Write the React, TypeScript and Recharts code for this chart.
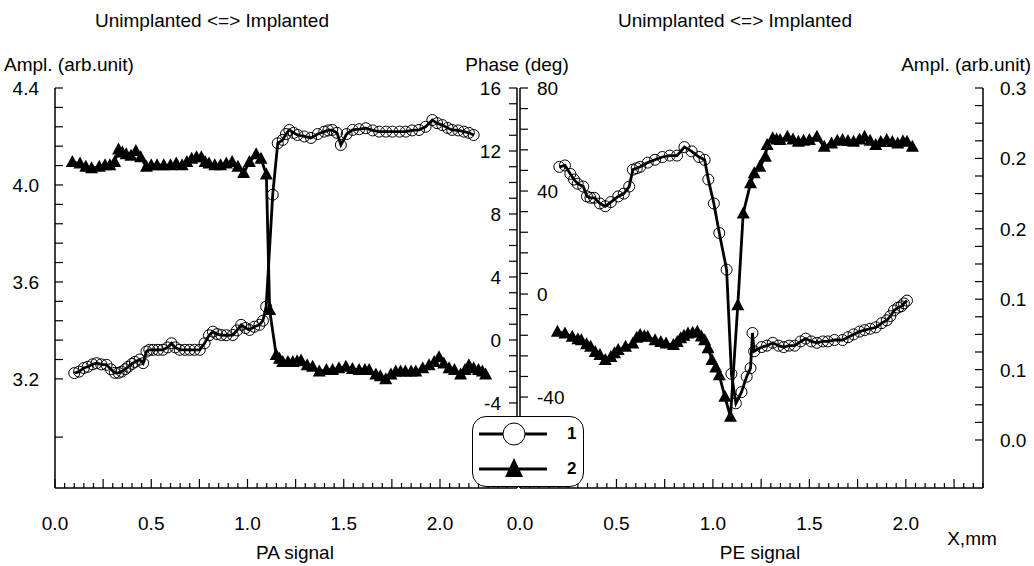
import React from "react";
import { LineChart, Line, XAxis, YAxis } from "recharts";

// PA signal: curve 1 = amplitude (left axis), curve 2 = phase (right axis)
const paAmpX = [0.1, 0.125, 0.15, 0.17, 0.195, 0.216, 0.24, 0.268, 0.29, 0.311, 0.33, 0.346, 0.365, 0.38, 0.4, 0.415, 0.44, 0.458, 0.475, 0.49, 0.51, 0.535, 0.56, 0.585, 0.605, 0.625, 0.648, 0.675, 0.7, 0.725, 0.752, 0.777, 0.8, 0.82, 0.842, 0.864, 0.89, 0.924, 0.945, 0.967, 0.99, 1.01, 1.035, 1.062, 1.08, 1.097, 1.131, 1.157, 1.183, 1.2, 1.217, 1.24, 1.26, 1.295, 1.33, 1.365, 1.399, 1.42, 1.44, 1.465, 1.485, 1.515, 1.546, 1.58, 1.615, 1.65, 1.684, 1.72, 1.753, 1.79, 1.822, 1.855, 1.891, 1.925, 1.96, 1.985, 2.012, 2.04, 2.063, 2.095, 2.124, 2.15, 2.175];
const paAmpY = [3.224, 3.23, 3.245, 3.25, 3.26, 3.265, 3.26, 3.258, 3.24, 3.225, 3.225, 3.23, 3.24, 3.25, 3.262, 3.27, 3.28, 3.265, 3.313, 3.32, 3.32, 3.32, 3.32, 3.33, 3.347, 3.33, 3.32, 3.32, 3.32, 3.32, 3.32, 3.347, 3.38, 3.395, 3.385, 3.381, 3.38, 3.381, 3.4, 3.423, 3.41, 3.402, 3.415, 3.423, 3.44, 3.498, 3.96, 4.172, 4.186, 4.21, 4.227, 4.215, 4.206, 4.2, 4.194, 4.21, 4.22, 4.225, 4.227, 4.215, 4.165, 4.21, 4.227, 4.23, 4.234, 4.225, 4.22, 4.22, 4.22, 4.22, 4.22, 4.225, 4.227, 4.24, 4.268, 4.255, 4.247, 4.235, 4.227, 4.225, 4.22, 4.215, 4.206];
const paPhaseX = [0.09, 0.13, 0.16, 0.19, 0.23, 0.26, 0.285, 0.31, 0.33, 0.35, 0.37, 0.395, 0.42, 0.445, 0.475, 0.5, 0.53, 0.565, 0.6, 0.63, 0.66, 0.685, 0.71, 0.735, 0.76, 0.78, 0.8, 0.83, 0.86, 0.89, 0.92, 0.95, 0.98, 1.01, 1.045, 1.07, 1.098, 1.115, 1.149, 1.166, 1.183, 1.21, 1.235, 1.258, 1.278, 1.31, 1.338, 1.373, 1.41, 1.442, 1.475, 1.511, 1.545, 1.58, 1.61, 1.632, 1.667, 1.69, 1.718, 1.745, 1.77, 1.795, 1.82, 1.85, 1.874, 1.91, 1.943, 1.97, 1.995, 2.02, 2.047, 2.075, 2.107, 2.13, 2.15, 2.175, 2.2, 2.22, 2.237];
const paPhaseY = [11.3, 11.2, 11.0, 10.9, 11.0, 11.1, 11.1, 11.3, 12.1, 11.9, 11.8, 11.7, 12.0, 11.6, 11.0, 11.1, 11.1, 11.1, 11.1, 11.2, 11.1, 11.3, 11.5, 11.6, 11.6, 11.3, 11.2, 11.1, 11.1, 11.2, 11.3, 11.0, 10.6, 11.3, 11.8, 11.5, 10.5, 1.9, -0.95, -1.2, -1.4, -1.4, -1.4, -1.35, -1.3, -1.6, -1.7, -2.0, -1.9, -1.9, -1.8, -1.7, -1.85, -1.9, -1.9, -1.9, -2.2, -2.3, -2.5, -2.2, -2.0, -2.0, -2.0, -2.0, -2.0, -1.8, -1.6, -1.4, -1.1, -1.5, -1.8, -1.9, -2.2, -1.9, -1.6, -1.8, -1.9, -2.0, -2.2];

// PE signal: curve 1 = amplitude (right axis), curve 2 = phase (left axis)
const peAmpX = [0.204, 0.233, 0.261, 0.28, 0.299, 0.328, 0.347, 0.365, 0.385, 0.414, 0.442, 0.471, 0.509, 0.538, 0.566, 0.585, 0.605, 0.623, 0.662, 0.7, 0.738, 0.776, 0.814, 0.852, 0.89, 0.928, 0.957, 0.976, 1.005, 1.033, 1.071, 1.096, 1.119, 1.148, 1.175, 1.195, 1.205, 1.214, 1.253, 1.28, 1.31, 1.34, 1.367, 1.395, 1.424, 1.455, 1.481, 1.51, 1.539, 1.57, 1.596, 1.63, 1.672, 1.7, 1.729, 1.76, 1.786, 1.815, 1.844, 1.875, 1.901, 1.92, 1.939, 1.96, 1.977, 1.99, 2.006];
const peAmpY = [0.244, 0.245, 0.239, 0.235, 0.232, 0.23, 0.223, 0.222, 0.222, 0.218, 0.216, 0.219, 0.223, 0.225, 0.23, 0.242, 0.243, 0.244, 0.247, 0.249, 0.251, 0.252, 0.252, 0.258, 0.255, 0.251, 0.249, 0.235, 0.218, 0.197, 0.171, 0.097, 0.076, 0.084, 0.095, 0.101, 0.126, 0.113, 0.116, 0.117, 0.119, 0.117, 0.116, 0.117, 0.117, 0.12, 0.122, 0.12, 0.119, 0.12, 0.12, 0.121, 0.121, 0.123, 0.125, 0.127, 0.128, 0.129, 0.13, 0.133, 0.135, 0.138, 0.142, 0.144, 0.145, 0.147, 0.149];
const pePhaseX = [0.194, 0.233, 0.271, 0.3, 0.318, 0.345, 0.366, 0.39, 0.414, 0.442, 0.471, 0.49, 0.509, 0.547, 0.585, 0.605, 0.623, 0.645, 0.662, 0.7, 0.73, 0.757, 0.795, 0.815, 0.833, 0.85, 0.871, 0.895, 0.919, 0.94, 0.957, 0.975, 0.995, 1.015, 1.033, 1.062, 1.091, 1.129, 1.157, 1.195, 1.214, 1.243, 1.272, 1.281, 1.31, 1.33, 1.348, 1.386, 1.415, 1.443, 1.47, 1.5, 1.539, 1.577, 1.615, 1.645, 1.672, 1.7, 1.729, 1.76, 1.786, 1.815, 1.844, 1.87, 1.901, 1.93, 1.958, 1.985, 2.006, 2.034];
const pePhaseY = [-14.6, -15.3, -16.6, -17.5, -17.9, -19.5, -20.5, -22.5, -23.7, -25.6, -24.4, -23, -21.7, -20.5, -19.2, -17, -15.9, -16.4, -16.6, -17.9, -18.6, -19.2, -19.8, -18.6, -17.2, -16.2, -15.3, -15, -14.6, -16.5, -17.9, -21, -25.6, -28.5, -31.5, -39.9, -47.6, -4.3, 31.3, 43.0, 46.9, 49.4, 53.3, 57.9, 60.5, 60, 59.8, 61.1, 60, 59.1, 59.5, 59.8, 61.1, 57.2, 58.5, 59.5, 59.8, 59.4, 59.1, 60, 61.1, 59.5, 57.9, 59, 59.8, 59, 58.5, 59.3, 59.1, 57.2];

// axis ticks and their labels
const xTicks = [0, 0.5, 1, 1.5, 2];
const xTickLabels = ["0.0", "0.5", "1.0", "1.5", "2.0"];
const paAmpTicks = [3.2, 3.6, 4.0, 4.4];
const paAmpTickLabels = ["3.2", "3.6", "4.0", "4.4"];
const paPhaseTicks = [-4, 0, 4, 8, 12, 16];
const paPhaseTickLabels = ["-4", "0", "4", "8", "12", "16"];
const pePhaseTicks = [-40, 0, 40, 80];
const pePhaseTickLabels = ["-40", "0", "40", "80"];
const peAmpTicks = [0.05, 0.1, 0.15, 0.2, 0.25, 0.3];
const peAmpTickLabels = ["0.0", "0.1", "0.1", "0.2", "0.2", "0.3"];

const W = 1034;
const H = 566;
const TOP = 88;
const BOTTOM = 488;
const FONT = "'Liberation Sans', Arial, Helvetica, sans-serif";
const FS = 19;

const zip = (xs: number[], ys: number[]) => xs.map((x, i) => ({ x, y: ys[i] }));
const steps = (from: number, to: number, step: number) => {
  const n = Math.round((to - from) / step);
  return Array.from({ length: n + 1 }, (_, i) => +(from + i * step).toFixed(4));
};
const labelFor = (v: number, ticks: number[], labels: string[]) => {
  const i = ticks.findIndex((t) => Math.abs(t - v) < 1e-6);
  return i >= 0 ? labels[i] : null;
};

const paAmpData = zip(paAmpX, paAmpY);
const paPhaseData = zip(paPhaseX, paPhaseY);
const peAmpData = zip(peAmpX, peAmpY);
const pePhaseData = zip(pePhaseX, pePhaseY);

const allXTicks = steps(0, 2.4, 0.05);

const txt = { fontFamily: FONT, fontSize: FS, fill: "#000" };

// inward ticks: dir = +1 means the tick grows to the right of the axis line
const yTick = (ticks: number[], labels: string[], dir: number, labelSide: "left" | "right") =>
  (p: any) => {
    const v = p.payload.value;
    const lab = labelFor(v, ticks, labels);
    return (
      <g key={`yt-${p.index}`}>
        <line x1={p.x} x2={p.x + dir * 8} y1={p.y} y2={p.y} stroke="#000" strokeWidth={1.2} />
        {lab !== null && (
          <text
            {...txt}
            x={labelSide === "left" ? p.x - 16 : p.x + 17}
            y={p.y}
            dy={7}
            textAnchor={labelSide === "left" ? "end" : "start"}
          >
            {lab}
          </text>
        )}
      </g>
    );
  };

const xTick = (p: any) => {
  const v = p.payload.value;
  const lab = labelFor(v, xTicks, xTickLabels);
  const big = Math.abs(v / 0.25 - Math.round(v / 0.25)) < 1e-6;
  return (
    <g key={`xt-${p.index}`}>
      <line x1={p.x} x2={p.x} y1={p.y} y2={p.y - (big ? 9 : 5)} stroke="#000" strokeWidth={1.2} />
      {lab !== null && (
        <text {...txt} x={p.x} y={p.y} dy={42} textAnchor="middle">
          {lab}
        </text>
      )}
    </g>
  );
};

const circleDot = { r: 5.5, stroke: "#000", strokeWidth: 1, fill: "none" };
const triangleDot = (p: any) => {
  const { cx, cy, index } = p;
  if (cx == null || cy == null) return <g key={`tri-${index}`} />;
  return (
    <path
      key={`tri-${index}`}
      d={`M${cx},${cy - 7}L${cx + 6.5},${cy + 5}L${cx - 6.5},${cy + 5}Z`}
      fill="#000"
    />
  );
};

const Caption = ({ x, y, anchor = "middle", size = FS, weight = 400, children }: any) => (
  <div
    style={{
      position: "absolute",
      left: x,
      top: y,
      transform: `translate(${anchor === "middle" ? "-50%" : anchor === "end" ? "-100%" : "0"}, -50%)`,
      fontSize: size,
      fontWeight: weight,
      lineHeight: 1,
      whiteSpace: "nowrap",
      color: "#000",
    }}
  >
    {children}
  </div>
);

const LegendRow = ({ label, marker }: { label: string; marker: "circle" | "triangle" }) => (
  <div style={{ display: "flex", alignItems: "center", height: 36 }}>
    <svg width={76} height={30}>
      <line x1={4} x2={72} y1={15} y2={15} stroke="#000" strokeWidth={2.8} />
      {marker === "circle" ? (
        <circle cx={39} cy={15} r={11} fill="#fff" stroke="#000" strokeWidth={1} />
      ) : (
        <path d="M39,4L48,23L30,23Z" fill="#000" />
      )}
    </svg>
    <span style={{ marginLeft: 16, fontWeight: 700, fontSize: 17 }}>{label}</span>
  </div>
);

// axes get 1px of width/height (a zero-sized axis is not drawn), so margins give 1px back
const axisCommon = {
  type: "number" as const,
  interval: 0 as const,
  tickSize: 0,
  tickMargin: 0,
  tickLine: false,
  axisLine: { stroke: "#000", strokeWidth: 1.5 },
};

const lineCommon = {
  dataKey: "y",
  type: "linear" as const,
  stroke: "#000",
  strokeWidth: 2.8,
  activeDot: false,
  isAnimationActive: false,
};

export default function App() {
  const leftMargin = { top: TOP, bottom: H - BOTTOM - 1, left: 55 - 1, right: W - 517 - 1 };
  const rightMargin = { top: TOP, bottom: H - BOTTOM - 1, left: 520 - 1, right: W - 983 - 1 };
  return (
    <div
      style={{
        position: "absolute",
        left: 0,
        top: 0,
        width: W,
        height: H,
        background: "#fff",
        fontFamily: FONT,
        overflow: "hidden",
      }}
    >
      <div style={{ position: "absolute", left: 0, top: 0 }}>
        <LineChart width={W} height={H} margin={leftMargin}>
          <XAxis {...axisCommon} dataKey="x" domain={[0, 2.4]} ticks={allXTicks} height={1} tick={xTick} />
          <YAxis
            {...axisCommon}
            yAxisId="amp"
            orientation="left"
            domain={[2.75, 4.4]}
            ticks={[2.96, ...steps(3.2, 4.4, 0.08)]}
            width={1}
            tick={yTick(paAmpTicks, paAmpTickLabels, 1, "left")}
          />
          <YAxis
            {...axisCommon}
            yAxisId="phase"
            orientation="right"
            domain={[-9.4, 16]}
            ticks={steps(-9, 16, 1)}
            width={1}
            tick={yTick(paPhaseTicks, paPhaseTickLabels, -1, "left")}
          />
          <Line {...lineCommon} data={paAmpData} yAxisId="amp" dot={circleDot} />
          <Line {...lineCommon} data={paPhaseData} yAxisId="phase" dot={triangleDot} />
        </LineChart>
      </div>
      <div style={{ position: "absolute", left: 0, top: 0 }}>
        <LineChart width={W} height={H} margin={rightMargin}>
          <XAxis {...axisCommon} dataKey="x" domain={[0, 2.4]} ticks={allXTicks} height={1} tick={xTick} />
          <YAxis
            {...axisCommon}
            yAxisId="phase"
            orientation="left"
            domain={[-75.3, 80]}
            ticks={steps(-72, 80, 8)}
            width={1}
            tick={yTick(pePhaseTicks, pePhaseTickLabels, 1, "right")}
          />
          <YAxis
            {...axisCommon}
            yAxisId="amp"
            orientation="right"
            domain={[0.0159, 0.3]}
            ticks={steps(0.05, 0.3, 0.0125)}
            width={1}
            tick={yTick(peAmpTicks, peAmpTickLabels, -1, "right")}
          />
          <Line {...lineCommon} data={peAmpData} yAxisId="amp" dot={circleDot} />
          <Line {...lineCommon} data={pePhaseData} yAxisId="phase" dot={triangleDot} />
        </LineChart>
      </div>

      <Caption x={212} y={20}>Unimplanted &lt;=&gt; Implanted</Caption>
      <Caption x={735} y={20}>Unimplanted &lt;=&gt; Implanted</Caption>
      <Caption x={4} y={64} anchor="start">Ampl. (arb.unit)</Caption>
      <Caption x={517} y={64}>Phase (deg)</Caption>
      <Caption x={1031} y={64} anchor="end">Ampl. (arb.unit)</Caption>
      <Caption x={295} y={552}>PA signal</Caption>
      <Caption x={760} y={552}>PE signal</Caption>
      <Caption x={972} y={538}>X,mm</Caption>

      <div
        style={{
          position: "absolute",
          left: 472,
          top: 416,
          width: 112,
          height: 71,
          boxSizing: "border-box",
          border: "1px solid #000",
          borderRadius: 14,
          background: "#fff",
          display: "flex",
          flexDirection: "column",
          justifyContent: "center",
          paddingLeft: 2,
        }}
      >
        <LegendRow label="1" marker="circle" />
        <LegendRow label="2" marker="triangle" />
      </div>
    </div>
  );
}
